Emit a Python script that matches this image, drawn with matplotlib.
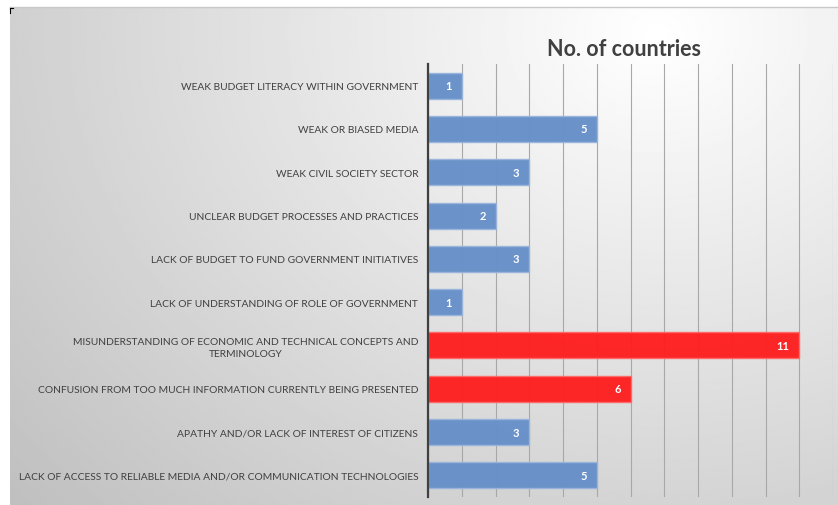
import numpy as np
import matplotlib
matplotlib.use("Agg")
import matplotlib.pyplot as plt

categories = [
    "WEAK BUDGET LITERACY WITHIN GOVERNMENT",
    "WEAK OR BIASED MEDIA",
    "WEAK CIVIL SOCIETY SECTOR",
    "UNCLEAR BUDGET PROCESSES AND PRACTICES",
    "LACK OF BUDGET TO FUND GOVERNMENT INITIATIVES",
    "LACK OF UNDERSTANDING OF ROLE OF GOVERNMENT",
    "MISUNDERSTANDING OF ECONOMIC AND TECHNICAL CONCEPTS AND\nTERMINOLOGY",
    "CONFUSION FROM TOO MUCH INFORMATION CURRENTLY BEING PRESENTED",
    "APATHY AND/OR LACK OF INTEREST OF CITIZENS",
    "LACK OF ACCESS TO RELIABLE MEDIA AND/OR COMMUNICATION TECHNOLOGIES",
]
values = [1, 5, 3, 2, 3, 1, 11, 6, 3, 5]
highlight = [False, False, False, False, False, False, True, True, False, False]
title = "No. of countries"

W, H = 838, 506
fig = plt.figure(figsize=(W / 100, H / 100), dpi=100)
fig.patch.set_facecolor("white")

# background radial gradient
bg = fig.add_axes([10 / W, 0, 1 - 10 / W, (H - 8) / H])
ny, nx = 250, 420
yy, xx = np.mgrid[0:ny, 0:nx]
cx, cy = 0.78 * nx, 0.05 * ny
d = np.sqrt(((xx - cx) / nx) ** 2 + ((yy - cy) / ny * 0.75) ** 2)
d = d / d.max()
g = 1.0 - 0.25 * np.clip(d, 0, 1) ** 1.0
bg.imshow(g, cmap="gray", vmin=0, vmax=1, aspect="auto", extent=[0, 1, 0, 1],
          interpolation="bilinear")
bg.set_xlim(0, 1)
bg.set_ylim(0, 1)
bg.axis("off")
bg.plot([0, 1], [1, 1], color="#c8c8c8", lw=1, transform=bg.transAxes, clip_on=False)
# tiny corner mark
fig.add_artist(plt.Line2D([10 / W, 10 / W], [1 - 9 / H, 1 - 14 / H], color="black", lw=0.8))
fig.add_artist(plt.Line2D([10 / W, 13 / W], [1 - 9 / H, 1 - 9 / H], color="black", lw=0.8))

ax = fig.add_axes([428 / W, 1 - 498 / H, (833 - 428) / W, (498 - 65) / H])
ax.patch.set_alpha(0)
n = len(categories)
y = np.arange(n)
colors = ["#ff2020" if h else "#6790c9" for h in highlight]
edges = ["#ff6a6a" if h else "#9ab5dc" for h in highlight]
bars = ax.barh(y, values, height=0.6, color=colors, edgecolor=edges, linewidth=1.0, zorder=3, alpha=0.97)
ax.set_ylim(n - 0.5, -0.5)
ax.set_xlim(0, 12)
ax.set_xticks(np.arange(0, 13))
ax.xaxis.grid(True, color="#a8a8a8", lw=0.8, zorder=0)
ax.set_axisbelow(True)
ax.tick_params(axis="x", length=0, labelbottom=False)
ax.tick_params(axis="y", length=0, pad=7)
ax.set_yticks(y)
ax.set_yticklabels(categories, fontsize=7.4, color="#404040", family="Lato", linespacing=1.35)
for lbl in ax.get_yticklabels():
    lbl.set_multialignment("center")
for s in ["top", "right", "bottom"]:
    ax.spines[s].set_visible(False)
ax.spines["left"].set_color("#404040")
ax.spines["left"].set_linewidth(1.6)
ax.spines["left"].set_zorder(4)

for yi, v in zip(y, values):
    ax.annotate(str(v), xy=(v, yi), xytext=(-7, 0), textcoords="offset points",
                ha="right", va="center", color="white", fontsize=8,
                fontweight="bold", family="Lato", zorder=5)

fig.text(624 / W, 1 - 50 / H, title, ha="center", va="center", fontsize=15.5,
         fontweight="bold", color="#404040", family="Lato")

fig.savefig("out.png", dpi=100)
